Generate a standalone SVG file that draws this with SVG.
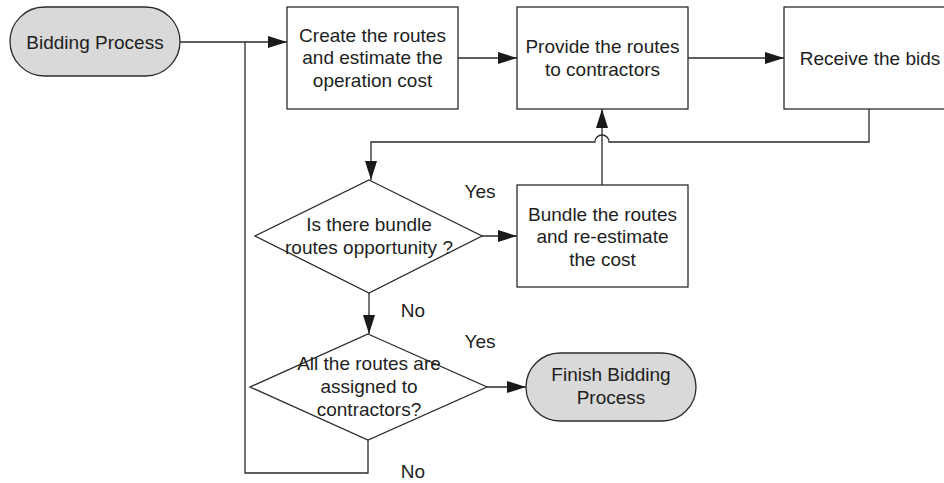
<svg xmlns="http://www.w3.org/2000/svg" width="944" height="483" viewBox="0 0 944 483">
  <style>
    .shape { fill: #ffffff; stroke: #2b2b2b; stroke-width: 1.3; }
    .term { fill: #d9d9d9; stroke: #2b2b2b; stroke-width: 1.3; }
    .lbl { font-family: "Liberation Sans", Arial, sans-serif; font-size: 19px; fill: #1e1e1e; text-anchor: middle; }
    .edge { fill: none; stroke: #2b2b2b; stroke-width: 1.3; }
  </style>
  <defs>
    <marker id="arrow" markerUnits="userSpaceOnUse" markerWidth="20" markerHeight="14" refX="19" refY="6" orient="auto">
      <path d="M0,0 L19,6 L0,12 Z" fill="#1a1a1a"/>
    </marker>
  </defs>
  <rect width="944" height="483" fill="#ffffff"/>

  <g id="connectors">
    <!-- start to first task -->
    <path class="edge" d="M180,42 H287" marker-end="url(#arrow)"/>
    <path class="edge" d="M458,58 H517" marker-end="url(#arrow)"/>
    <path class="edge" d="M688,58 H784" marker-end="url(#arrow)"/>
    <!-- bids back to the bundle decision, hopping over the vertical line -->
    <path class="edge" d="M869,109 V142 H609 A7,7 0 0 0 595,142 H371 V180" marker-end="url(#arrow)"/>
    <!-- bundled routes back to contractors -->
    <path class="edge" d="M602,185 V109" marker-end="url(#arrow)"/>
    <path class="edge" d="M482,236 H517" marker-end="url(#arrow)"/>
    <path class="edge" d="M369,293 V334" marker-end="url(#arrow)"/>
    <path class="edge" d="M487,387 H526" marker-end="url(#arrow)"/>
    <!-- loop back to the start -->
    <path class="edge" d="M368,440 V473 H245 V42"/>
    <text class="lbl" x="480" y="198">Yes</text>
    <text class="lbl" x="413" y="317">No</text>
    <text class="lbl" x="480" y="348">Yes</text>
    <text class="lbl" x="413" y="478">No</text>
  </g>

  <g id="start">
    <rect class="term" x="10" y="7" width="170" height="69" rx="34.5" ry="34.5"/>
    <text class="lbl" x="95" y="49">Bidding Process</text>
  </g>

  <g id="create-routes">
    <rect class="shape" x="287" y="7" width="171" height="102"/>
    <text class="lbl" x="372.5" y="41.5">Create the routes</text>
    <text class="lbl" x="372.5" y="64">and estimate the</text>
    <text class="lbl" x="372.5" y="86.5">operation cost</text>
  </g>

  <g id="provide-routes">
    <rect class="shape" x="517" y="7" width="171" height="102"/>
    <text class="lbl" x="602.5" y="53">Provide the routes</text>
    <text class="lbl" x="602.5" y="76">to contractors</text>
  </g>

  <g id="receive-bids">
    <rect class="shape" x="784" y="7" width="170" height="102"/>
    <text class="lbl" x="870" y="64.5">Receive the bids</text>
  </g>

  <g id="bundle-decision">
    <polygon class="shape" points="369,180 482,236 369,293 255,236"/>
    <text class="lbl" x="369" y="231">Is there bundle</text>
    <text class="lbl" x="369" y="254">routes opportunity ?</text>
  </g>

  <g id="bundle-routes">
    <rect class="shape" x="517" y="185" width="171" height="102"/>
    <text class="lbl" x="602.5" y="220.5">Bundle the routes</text>
    <text class="lbl" x="602.5" y="243">and re-estimate</text>
    <text class="lbl" x="602.5" y="265.5">the cost</text>
  </g>

  <g id="assigned-decision">
    <polygon class="shape" points="368,334 487,387 368,440 250,387"/>
    <text class="lbl" x="369" y="370">All the routes are</text>
    <text class="lbl" x="369" y="393">assigned to</text>
    <text class="lbl" x="369" y="416">contractors?</text>
  </g>

  <g id="finish">
    <rect class="term" x="526" y="353" width="170" height="68" rx="34" ry="34"/>
    <text class="lbl" x="611" y="381">Finish Bidding</text>
    <text class="lbl" x="611" y="404">Process</text>
  </g>
</svg>
